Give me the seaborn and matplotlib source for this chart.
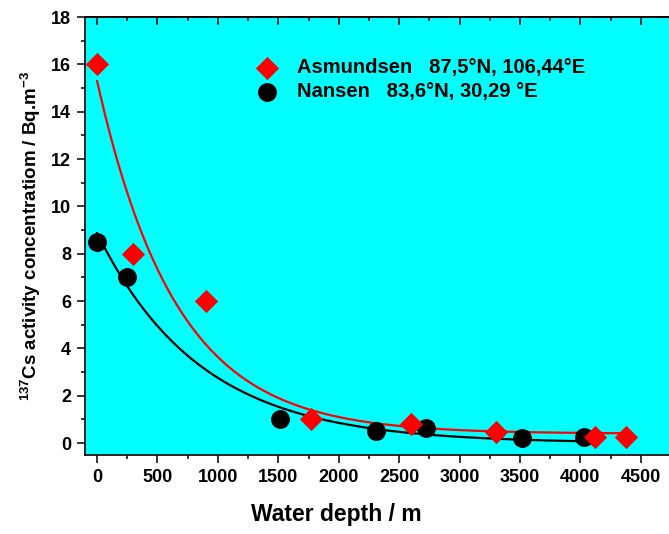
import numpy as np
import pandas as pd
import matplotlib
matplotlib.use("Agg")
import matplotlib.pyplot as plt
import seaborn as sns
from matplotlib.ticker import MultipleLocator

# ---- data ----
asm_label = "Asmundsen   87,5°N, 106,44°E"
nan_label = "Nansen   83,6°N, 30,29 °E"

asm_depth = [0, 300, 900, 1770, 2600, 3300, 4120, 4380]
asm_conc = [16.0, 8.0, 6.0, 1.0, 0.8, 0.47, 0.25, 0.25]

nan_depth = [0, 250, 1510, 2310, 2720, 3520, 4030]
nan_conc = [8.5, 7.0, 1.0, 0.53, 0.63, 0.22, 0.27]

# exponential-decay fit parameters (y0 + A*exp(-x/t))
asm_fit = dict(y0=0.4, A=14.9, t=655.0, xmax=4380)
nan_fit = dict(y0=0.0, A=8.88, t=855.0, xmax=4030)

x_ticks = [0, 500, 1000, 1500, 2000, 2500, 3000, 3500, 4000, 4500]
y_ticks = [0, 2, 4, 6, 8, 10, 12, 14, 16, 18]

sns.set_theme(style="ticks")
plt.rcParams["font.family"] = ["Liberation Sans", "DejaVu Sans"]
plt.rcParams["font.weight"] = "bold"
plt.rcParams["text.color"] = "black"
plt.rcParams["axes.labelcolor"] = "black"
plt.rcParams["xtick.color"] = "black"
plt.rcParams["ytick.color"] = "black"
plt.rcParams["axes.edgecolor"] = "black"
plt.rcParams["mathtext.fontset"] = "custom"
plt.rcParams["mathtext.rm"] = "Liberation Sans:bold"
plt.rcParams["mathtext.bf"] = "Liberation Sans:bold"
plt.rcParams["mathtext.it"] = "Liberation Sans:bold"
plt.rcParams["mathtext.default"] = "rm"

fig = plt.figure(figsize=(6.69, 5.34), dpi=100)
W, H = 669, 534
ax = fig.add_axes([85 / W, 79 / H, 592 / W, 438 / H])
ax.set_facecolor("#00FFFF")

def fit_frame(p):
    xs = np.linspace(0, p["xmax"], 300)
    return pd.DataFrame({"x": xs, "y": p["y0"] + p["A"] * np.exp(-xs / p["t"])})

df_asm = pd.DataFrame({"depth": asm_depth, "conc": asm_conc})
df_nan = pd.DataFrame({"depth": nan_depth, "conc": nan_conc})

sns.lineplot(data=fit_frame(nan_fit), x="x", y="y", color="black", lw=1.6, ax=ax, zorder=2)
sns.lineplot(data=fit_frame(asm_fit), x="x", y="y", color="red", lw=1.6, ax=ax, zorder=2)
sns.scatterplot(data=df_nan, x="depth", y="conc", marker="o", s=185, color="black",
                edgecolor="black", linewidth=0, ax=ax, zorder=3, label=nan_label)
sns.scatterplot(data=df_asm, x="depth", y="conc", marker="D", s=140, color="red",
                edgecolor="red", linewidth=0, ax=ax, zorder=4, label=asm_label)

ax.set_xlim(-100, 4800)
ax.set_ylim(-0.5, 18)
ax.set_xticks(x_ticks)
ax.set_yticks(y_ticks)
ax.set_xticklabels([str(v) for v in x_ticks])
ax.set_yticklabels([str(v) for v in y_ticks])
ax.xaxis.set_minor_locator(MultipleLocator(250))
ax.yaxis.set_minor_locator(MultipleLocator(1))
ax.tick_params(axis="both", which="major", direction="out", length=6, width=1.1,
               labelsize=13, pad=4, color="black", labelcolor="black")
ax.tick_params(axis="both", which="minor", direction="out", length=3, width=1.1, color="black")
for s in ax.spines.values():
    s.set_linewidth(1.2)
    s.set_color("black")

# inward ticks on top and right
top = ax.secondary_xaxis("top")
top.set_xticks(x_ticks)
top.xaxis.set_minor_locator(MultipleLocator(250))
top.tick_params(which="major", direction="in", length=6, width=1.1, labeltop=False, color="black")
top.tick_params(which="minor", direction="in", length=3, width=1.1, color="black")
top.set_xticklabels([])
top.spines["top"].set_linewidth(1.2)
right = ax.secondary_yaxis("right")
right.set_yticks(y_ticks)
right.yaxis.set_minor_locator(MultipleLocator(1))
right.tick_params(which="major", direction="in", length=6, width=1.1, labelright=False, color="black")
right.tick_params(which="minor", direction="in", length=3, width=1.1, color="black")
right.set_yticklabels([])
right.spines["right"].set_linewidth(1.2)

ax.set_xlabel("Water depth / m", fontsize=16.5, fontweight="bold", x=0.424, labelpad=12,
              color="black")
ax.set_ylabel(r"$^{137}$Cs activity concentratiom / Bq.m$^{-3}$", fontsize=13.5,
              fontweight="bold", labelpad=6, color="black")

handles, labels = ax.get_legend_handles_labels()
order = [labels.index(asm_label), labels.index(nan_label)]
ax.legend([handles[i] for i in order], [labels[i] for i in order],
          loc="upper left", bbox_to_anchor=(0.29, 0.906), frameon=False,
          prop={"size": 14.5, "weight": "bold"}, handlelength=1.0, handletextpad=1.0,
          labelspacing=0.25, borderpad=0, borderaxespad=0)

fig.savefig("out.png", dpi=100)
